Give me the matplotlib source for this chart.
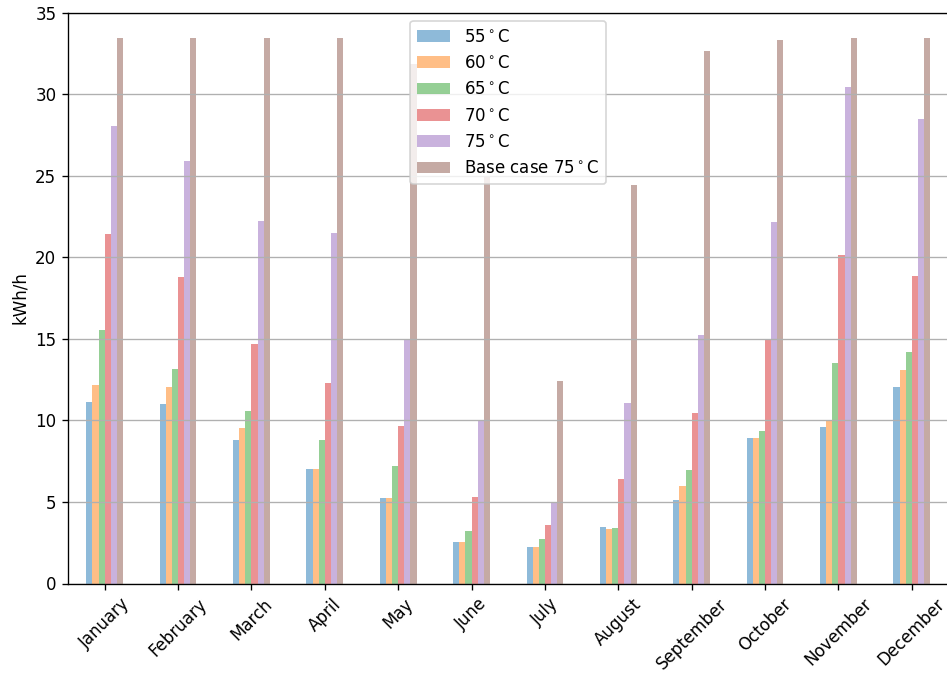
import matplotlib
matplotlib.use("Agg")
import matplotlib.pyplot as plt
import numpy as np
import pandas as pd

months = ["January", "February", "March", "April", "May", "June", "July",
          "August", "September", "October", "November", "December"]

t55 = [11.15, 11.0, 8.77, 7.0, 5.26, 2.56, 2.25, 3.46, 5.1, 8.93, 9.59, 12.02]
t60 = [12.17, 12.05, 9.55, 7.0, 5.26, 2.56, 2.25, 3.34, 5.98, 8.93, 9.96, 13.11]
t65 = [15.55, 13.15, 10.59, 8.79, 7.19, 3.19, 2.7, 3.38, 6.97, 9.36, 13.52, 14.2]
t70 = [21.41, 18.76, 14.69, 12.27, 9.67, 5.32, 3.58, 6.39, 10.45, 15.0, 20.16, 18.87]
t75 = [28.05, 25.87, 22.25, 21.47, 15.0, 10.04, 5.0, 11.06, 15.22, 22.14, 30.46, 28.46]
base75 = [33.42, 33.42, 33.42, 33.42, 31.85, 24.9, 12.43, 24.43, 32.67, 33.31, 33.42, 33.42]

labels = [r"55$^\circ$C", r"60$^\circ$C", r"65$^\circ$C", r"70$^\circ$C",
          r"75$^\circ$C", r"Base case 75$^\circ$C"]

df = pd.DataFrame({labels[0]: t55, labels[1]: t60, labels[2]: t65,
                   labels[3]: t70, labels[4]: t75, labels[5]: base75},
                  index=months)

dpi = 120
fig = plt.figure(figsize=(947 / dpi, 677 / dpi), dpi=dpi)
ax = fig.add_axes([68 / 947, (677 - 583.5) / 677, (948.5 - 68) / 947, (583.5 - 12.5) / 677])

df.plot.bar(ax=ax, alpha=0.5, rot=45, legend=False)
ax.set_ylim(0, 35)
ax.set_xlim(-0.5, 11.5)
ax.set_ylabel("kWh/h")
ax.yaxis.grid(True)
ax.set_axisbelow(False)
for sp in ax.spines.values():
    sp.set_zorder(3)
ax.legend(loc="upper center")

fig.savefig("out.png", dpi=dpi)
